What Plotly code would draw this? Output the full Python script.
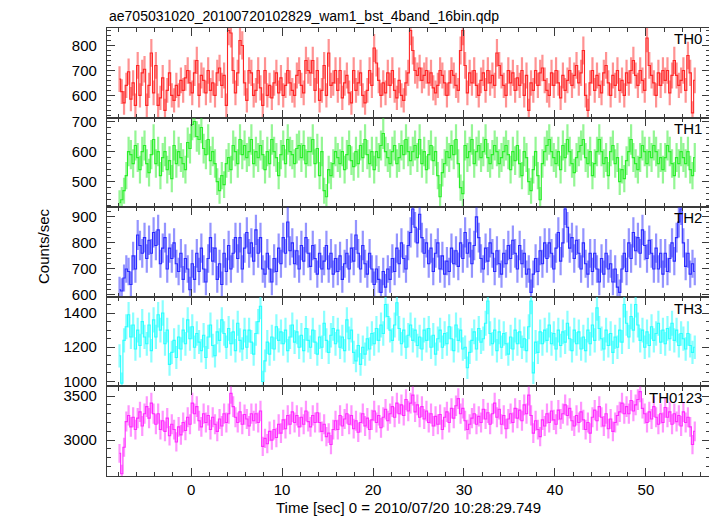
import numpy as np
import plotly.graph_objects as go
from plotly.subplots import make_subplots

TITLE = "ae705031020_20100720102829_wam1_bst_4band_16bin.qdp"
X_TITLE = "Time [sec] 0 = 2010/07/20 10:28:29.749"
Y_TITLE = "Counts/sec"
BANDS = ["TH0", "TH1", "TH2", "TH3", "TH0123"]
T_START = -8.0
BIN = 0.25

th0 = [
    665, 615, 570, 640, 695, 585, 650, 560, 720, 600, 690, 705, 560, 640, 770, 610,
    720, 560, 590, 670, 540, 620, 690, 600, 580, 640, 600, 660, 620, 670, 700, 650,
    610, 690, 740, 600, 680, 660, 610, 700, 620, 650, 600, 690, 710, 640, 680, 560,
    860, 850, 700, 610, 690, 820, 800, 650, 580, 700, 690, 600, 620, 700, 630, 560,
    700, 600, 640, 590, 650, 690, 610, 670, 600, 640, 700, 650, 620, 600, 680, 700,
    640, 610, 740, 700, 690, 740, 620, 700, 580, 620, 720, 600, 770, 640, 650, 700,
    620, 700, 590, 650, 680, 610, 570, 700, 620, 650, 690, 600, 570, 620, 700, 640,
    790, 730, 660, 600, 650, 610, 690, 640, 700, 620, 590, 660, 600, 580, 650, 690,
    860, 780, 700, 680, 710, 660, 680, 700, 650, 690, 630, 610, 640, 700, 680, 650,
    600, 650, 700, 680, 640, 620, 780, 860, 720, 610, 690, 650, 700, 640, 600, 660,
    690, 620, 700, 650, 680, 640, 770, 720, 680, 640, 600, 700, 650, 690, 620, 670,
    640, 700, 600, 680, 540, 650, 620, 700, 640, 690, 710, 660, 620, 600, 690, 640,
    700, 650, 590, 680, 620, 660, 700, 640, 680, 720, 650, 690, 780, 600, 540, 650,
    700, 620, 680, 640, 610, 690, 720, 650, 600, 680, 640, 700, 620, 660, 600, 690,
    650, 700, 740, 680, 640, 700, 660, 620, 830, 720, 680, 650, 600, 690, 640, 700,
    660, 700, 610, 680, 740, 680, 640, 660, 700, 620, 760, 690, 530, 660,
]

th1 = [
    430, 440, 470, 520, 600, 590, 560, 620, 580, 540, 600, 620, 560, 530, 590, 640,
    560, 600, 520, 580, 600, 540, 570, 510, 620, 560, 600, 580, 560, 540, 630, 610,
    690, 700, 650, 640, 680, 610, 590, 640, 570, 600, 560, 500, 470, 520, 490, 560,
    580, 540, 620, 600, 560, 640, 590, 620, 580, 600, 640, 560, 600, 580, 620, 590,
    540, 600, 560, 640, 600, 580, 520, 590, 620, 560, 640, 600, 590, 560, 610, 620,
    580, 620, 560, 600, 600, 640, 560, 610, 520, 600, 470, 450, 540, 520, 560, 600,
    580, 560, 600, 540, 590, 620, 570, 550, 600, 560, 620, 580, 640, 590, 560, 600,
    540, 600, 580, 620, 660, 600, 580, 560, 600, 620, 560, 580, 620, 590, 640, 600,
    570, 600, 620, 580, 640, 560, 600, 540, 590, 620, 570, 600, 520, 450, 530, 560,
    600, 580, 620, 590, 640, 560, 480, 460, 620, 580, 600, 640, 560, 600, 620, 580,
    600, 640, 580, 560, 590, 620, 600, 560, 580, 600, 620, 590, 540, 600, 570, 620,
    560, 520, 600, 580, 500, 470, 540, 600, 520, 440, 560, 600, 620, 640, 600, 580,
    560, 600, 540, 620, 580, 640, 600, 560, 530, 580, 600, 620, 640, 580, 560, 600,
    520, 560, 600, 640, 600, 560, 580, 520, 600, 620, 560, 580, 500, 540, 510, 570,
    600, 640, 580, 560, 540, 580, 620, 600, 560, 600, 580, 620, 600, 560, 580, 540,
    580, 620, 600, 560, 520, 580, 560, 600, 580, 560, 600, 540, 520, 580,
]

th2 = [
    620, 615, 665, 700, 690, 640, 750, 700, 830, 790, 760, 820, 740, 810, 760, 840,
    790, 850, 720, 780, 820, 700, 780, 740, 800, 720, 690, 760, 660, 740, 700, 620,
    720, 660, 760, 690, 780, 700, 650, 740, 820, 730, 780, 660, 720, 640, 760, 690,
    790, 700, 760, 820, 740, 820, 700, 780, 840, 760, 800, 730, 850, 760, 820, 700,
    680, 760, 700, 650, 740, 690, 780, 720, 820, 760, 880, 770, 800, 720, 770, 700,
    790, 730, 820, 760, 710, 790, 740, 680, 760, 700, 730, 790, 700, 760, 680, 740,
    690, 750, 660, 720, 760, 700, 780, 730, 830, 760, 700, 790, 720, 680, 760, 700,
    640, 700, 660, 610, 690, 630, 700, 660, 740, 690, 780, 720, 800, 740, 700, 790,
    840, 930, 860, 800, 910, 820, 760, 800, 720, 780, 690, 760, 800, 700, 750, 680,
    730, 690, 780, 720, 770, 710, 800, 740, 840, 760, 800, 720, 790, 900, 820, 740,
    700, 780, 730, 800, 760, 690, 770, 720, 680, 760, 720, 790, 740, 810, 760, 700,
    790, 720, 760, 680, 700, 610, 680, 740, 690, 770, 720, 800, 740, 800, 760, 700,
    780, 840, 730, 800, 930, 860, 780, 820, 740, 810, 760, 700, 800, 720, 680, 760,
    690, 760, 700, 650, 740, 680, 760, 700, 720, 650, 700, 630, 610, 700, 760, 690,
    800, 740, 840, 770, 820, 760, 850, 790, 740, 810, 760, 700, 780, 700, 760, 680,
    760, 690, 740, 800, 730, 820, 880, 930, 800, 710, 760, 680, 720, 690,
]

th3 = [
    1150, 990, 1240, 1320, 1390, 1260, 1330, 1190, 1300, 1210, 1350, 1260, 1220, 1330, 1180, 1360,
    1260, 1390, 1300, 1400, 1220, 1300, 1100, 1170, 1240, 1140, 1260, 1190, 1300, 1220, 1360, 1250,
    1320, 1200, 1280, 1230, 1180, 1270, 1140, 1260, 1330, 1210, 1150, 1290, 1240, 1360, 1280, 1200,
    1310, 1220, 1290, 1180, 1340, 1240, 1190, 1300, 1200, 1300, 1230, 1160, 1280, 1350, 1440, 1000,
    1120, 1230, 1160, 1260, 1190, 1320, 1240, 1290, 1220, 1300, 1180, 1260, 1330, 1230, 1290, 1200,
    1270, 1180, 1310, 1240, 1200, 1300, 1230, 1160, 1260, 1200, 1340, 1240, 1170, 1270, 1310, 1220,
    1300, 1200, 1260, 1180, 1360, 1250, 1300, 1170, 1120, 1210, 1100, 1200, 1160, 1250, 1190, 1280,
    1220, 1310, 1240, 1330, 1280, 1450, 1380, 1300, 1240, 1330, 1460, 1310, 1220, 1300, 1200, 1270,
    1330, 1240, 1300, 1210, 1260, 1190, 1300, 1240, 1310, 1200, 1270, 1160, 1250, 1300, 1200, 1280,
    1220, 1320, 1250, 1180, 1330, 1240, 1300, 1190, 1200, 1080, 1170, 1240, 1290, 1190, 1310, 1230,
    1250, 1340, 1470, 1280, 1220, 1300, 1180, 1290, 1200, 1280, 1220, 1160, 1260, 1190, 1300, 1220,
    1290, 1200, 1250, 1180, 1320, 1470, 1050, 1230, 1170, 1290, 1220, 1300, 1240, 1330, 1220, 1280,
    1190, 1300, 1210, 1290, 1230, 1340, 1250, 1180, 1300, 1220, 1290, 1190, 1260, 1180, 1300, 1220,
    1330, 1240, 1430, 1310, 1250, 1190, 1300, 1210, 1280, 1170, 1260, 1200, 1300, 1230, 1450, 1340,
    1260, 1380, 1300, 1450, 1330, 1240, 1300, 1200, 1290, 1210, 1320, 1240, 1280, 1340, 1230, 1300,
    1220, 1310, 1250, 1340, 1240, 1300, 1210, 1280, 1250, 1190, 1280, 1210, 1170, 1200,
]

th0123 = [
    2850, 2620, 2920, 3210, 3280, 3150, 3260, 3120, 3250, 3320, 3160, 3300, 3380, 3250, 3420, 3300,
    3180, 3300, 3120, 3220, 3100, 3250, 3050, 3180, 3120, 2980, 3150, 3060, 3200, 3110, 3260, 3180,
    3420, 3300, 3380, 3220, 3150, 3300, 3200, 3280, 3120, 3260, 3180, 3100, 3240, 3160, 3300, 3200,
    3300, 3530, 3380, 3260, 3200, 3320, 3180, 3290, 3240, 3160, 3300, 3220, 3300, 3200, 3330, 2930,
    3020, 2960, 3100, 3000, 3120, 3030, 3180, 3080, 3230, 3130, 3280, 3180, 3320, 3200, 3280, 3150,
    3260, 3180, 3330, 3210, 3150, 3280, 3200, 3310, 3200, 3100, 3180, 3040, 3080, 2950, 3120, 3220,
    3120, 3280, 3160, 3240, 3300, 3180, 3280, 3130, 3220, 3090, 3200, 3300, 3160, 3250, 3120, 3230,
    3330, 3200, 3280, 3140, 3260, 3350, 3220, 3300, 3380, 3260, 3420, 3300, 3400, 3280, 3460, 3330,
    3420, 3510, 3320, 3400, 3260, 3380, 3240, 3330, 3200, 3300, 3160, 3270, 3180, 3290, 3120, 3260,
    3320, 3200, 3360, 3250, 3390, 3470, 3300, 3360, 3220, 3120, 3180, 3250, 3300, 3180, 3270, 3200,
    3350, 3240, 3310, 3180, 3300, 3420, 3260, 3350, 3180, 3280, 3130, 3240, 3300, 3200, 3360, 3250,
    3340, 3220, 3400, 3300, 3510, 3280, 3080, 3220, 3120, 3040, 3230, 3160, 3300, 3200, 3330, 3230,
    3180, 3340, 3240, 3300, 3400, 3280, 3360, 3220, 3160, 3280, 3200, 3320, 3230, 3120, 3200, 3080,
    3260, 3340, 3220, 3380, 3260, 3160, 3300, 3130, 3240, 3100, 3200, 3280, 3320, 3420, 3300, 3380,
    3300, 3450, 3330, 3400, 3460, 3550, 3360, 3300, 3200, 3320, 3240, 3380, 3260, 3180, 3300, 3200,
    3370, 3260, 3320, 3180, 3300, 3210, 3280, 3160, 3320, 3200, 3260, 3150, 2950, 3100,
]

SERIES = [th0, th1, th2, th3, th0123]

# y-axis ranges and ticks per panel
Y_RANGES = [[511, 870], [415, 713], [593, 937], [971, 1495], [2594, 3609]]
Y_TICKVALS = [[600, 700, 800], [500, 600, 700], [600, 700, 800, 900],
              [1000, 1200, 1400], [3000, 3500]]
Y_MINOR = [20, 20, 20, 50, 100]

COLORS = ["#ff2626", "#2aee2a", "#2a2aff", "#2affff", "#ff2aff"]
ERR_COLORS = ["rgba(255,38,38,0.5)", "rgba(42,238,42,0.5)", "rgba(42,42,255,0.5)",
              "rgba(42,255,255,0.55)", "rgba(255,42,255,0.5)"]

FONT = "Liberation Sans, Arial, Helvetica, sans-serif"
AXCOL = "#3a3a3a"

fig = make_subplots(rows=5, cols=1, shared_xaxes=True, vertical_spacing=0)

for i, vals in enumerate(SERIES):
    v = np.array(vals, dtype=float)
    t = T_START + BIN * (np.arange(len(v)) + 0.5)
    err = np.sqrt(v / BIN)  # Poisson error on rate
    fig.add_trace(go.Scatter(
        x=t, y=v, mode="lines",
        line=dict(color=COLORS[i], width=1.1, shape="hvh"),
        error_y=dict(type="data", array=err, color=ERR_COLORS[i], thickness=2.2, width=0),
        hoverinfo="skip", showlegend=False,
    ), row=i + 1, col=1)

    fig.update_yaxes(
        row=i + 1, col=1,
        range=Y_RANGES[i], tickvals=Y_TICKVALS[i],
        ticks="inside", ticklen=8, tickwidth=1.2, tickcolor=AXCOL,
        minor=dict(dtick=Y_MINOR[i], ticks="inside", ticklen=4, tickcolor=AXCOL, tickwidth=1),
        showline=True, linecolor=AXCOL, linewidth=1.2, mirror="ticks",
        showgrid=False, zeroline=False,
        tickfont=dict(family=FONT, size=15, color="black"),
        ticklabelstandoff=6,
    )
    fig.update_xaxes(
        row=i + 1, col=1,
        range=[-9.25, 57.05], tick0=0, dtick=10,
        ticks="inside", ticklen=8, tickwidth=1.2, tickcolor=AXCOL,
        minor=dict(dtick=2, ticks="inside", ticklen=4, tickcolor=AXCOL, tickwidth=1),
        showline=True, linecolor=AXCOL, linewidth=1.2, mirror="ticks",
        showgrid=False, zeroline=False,
        tickfont=dict(family=FONT, size=15, color="black"),
    )

# panel labels (positions given in page pixels relative to the plot area)
label_y_px = [38, 128, 218, 308, 397]
annotations = []
for name, ypx in zip(BANDS, label_y_px):
    annotations.append(dict(
        text=name, xref="paper", yref="paper",
        x=(704 - 107) / 603, y=1 - (ypx - 28) / 448,
        xanchor="right", yanchor="middle", showarrow=False,
        font=dict(family=FONT, size=15, color="black"),
    ))

annotations.append(dict(
    text=TITLE, xref="paper", yref="paper", x=0, y=1 + (28 - 16) / 448,
    xanchor="left", yanchor="middle", showarrow=False,
    font=dict(family=FONT, size=14, color="black"),
))
annotations.append(dict(
    text=X_TITLE, xref="paper", yref="paper", x=0.5, y=-(507 - 476) / 448,
    xanchor="center", yanchor="middle", showarrow=False,
    font=dict(family=FONT, size=15, color="black"),
))
annotations.append(dict(
    text=Y_TITLE, xref="paper", yref="paper", x=(44 - 107) / 603, y=1 - (246 - 28) / 448,
    xanchor="center", yanchor="middle", showarrow=False, textangle=-90,
    font=dict(family=FONT, size=15, color="black"),
))

# The page body has an 8px default margin, so the figure is sized to fit
# inside the 717x516 window from that offset.
fig.update_layout(
    width=709, height=508,
    margin=dict(l=99, r=7, t=20, b=40),
    paper_bgcolor="white", plot_bgcolor="white",
    annotations=annotations,
    showlegend=False,
)

fig.write_html("out.html")
